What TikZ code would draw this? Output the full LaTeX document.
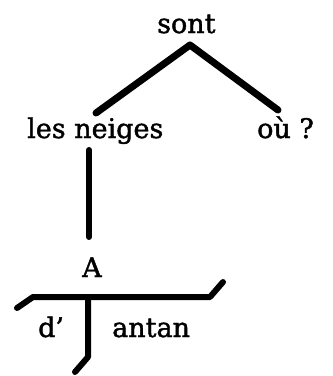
\documentclass[tikz,border=0pt]{standalone}
\usepackage{fontspec}
\setmainfont[FakeBold=1.5]{DejaVu Serif}
\usetikzlibrary{positioning}
\tikzset{
  word/.style={inner sep=0pt, anchor=base west,
    font=\fontsize{27}{30}\selectfont},
  stem/.style={line width=7pt, line cap=round, line join=round, color=black}
}
\begin{document}
\begin{tikzpicture}[x=1pt, y=-1pt]
  \useasboundingbox (0,0) rectangle (333,376);

  % Nodes
  \node[word] (sont) at (157,33) {sont};
  \node[word] (neiges) at (27,138) {les neiges};
  \node[word] (ou) at (257,138) {où ?};
  \node[word] (A) at (82,277) {A};
  \node[word] (d) at (38,337) {d’};
  \node[word] (antan) at (112,337) {antan};

  % Stemma points
  \coordinate (apex) at (190,45);
  \coordinate (neigesup) at (96,113);
  \coordinate (ouup) at (278,110);
  \coordinate (neigesdown) at (89,150);
  \coordinate (Aup) at (89,237);
  \coordinate (barL) at (33,297);
  \coordinate (tailL) at (17,308);
  \coordinate (barR) at (210,297);
  \coordinate (tailR) at (223,282);
  \coordinate (barmid) at (88,297);
  \coordinate (footknee) at (88,357);
  \coordinate (foot) at (75,372);

  % Paths
  \draw[stem] (neigesup) -- (apex) -- (ouup);
  \draw[stem, line width=6pt] (neigesdown) -- (Aup);
  \draw[stem, line width=6pt] (tailL) -- (barL) -- (barR) -- (tailR);
  \draw[stem, line width=6pt] (barmid) -- (footknee) -- (foot);
\end{tikzpicture}
\end{document}
